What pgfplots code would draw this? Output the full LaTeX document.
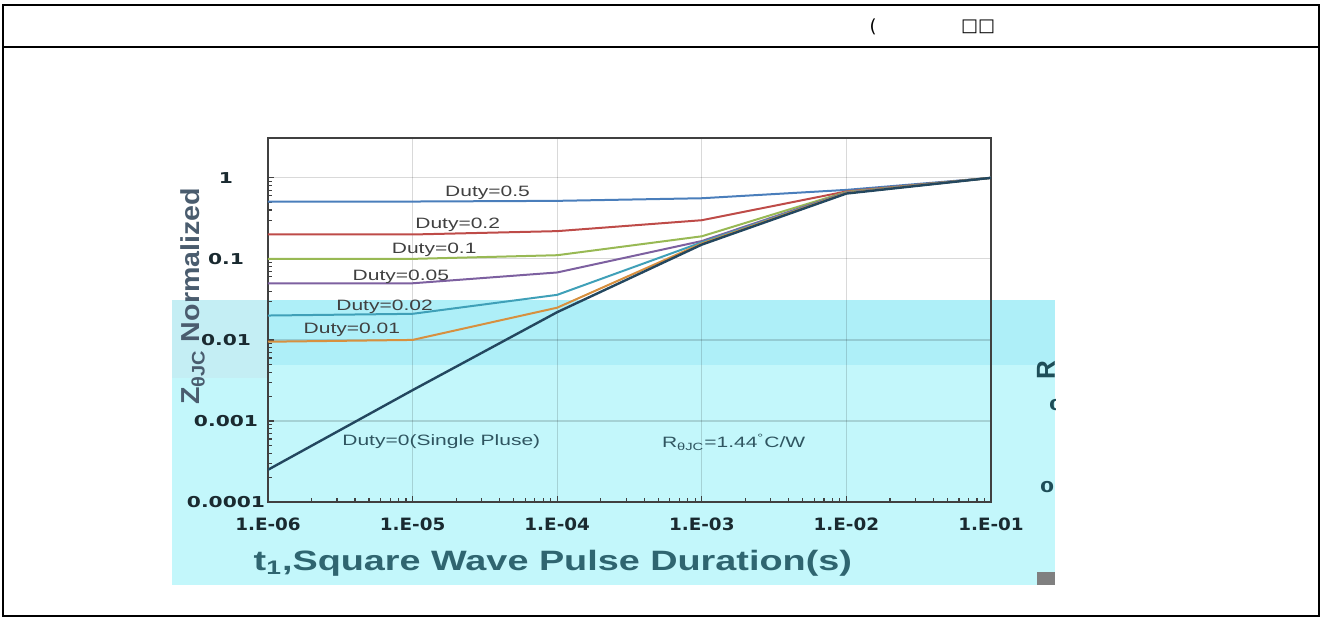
\documentclass[border=0pt]{standalone}
\usepackage{fontspec}
\setmainfont{Liberation Sans}
\newfontfamily\dutyfont[FakeStretch=1.4]{Liberation Sans}
\newfontfamily\xlabfont[FakeStretch=1.35]{Liberation Sans}
\newfontfamily\ylabfont[FakeStretch=1.1]{Liberation Sans}
\newfontfamily\ytickfont[FakeStretch=1.35]{DejaVu Sans}
\newfontfamily\xtickfont[FakeStretch=1.08]{DejaVu Sans}
\newfontfamily\symfont{DejaVu Sans}
\usepackage{pgfplots}
\pgfplotsset{compat=1.18}
\definecolor{cyanB}{HTML}{C3F7FB}
\definecolor{cyanM}{HTML}{AEEFF8}
\definecolor{cyanL}{HTML}{C4EEF4}
\definecolor{cA}{HTML}{4A7EBB}
\definecolor{cB}{HTML}{BE4B48}
\definecolor{cC}{HTML}{98B954}
\definecolor{cD}{HTML}{7D60A0}
\definecolor{cE}{HTML}{3FA0B8}
\definecolor{cF}{HTML}{D7903F}
\definecolor{cG}{HTML}{23475F}
\definecolor{xlabcol}{HTML}{2F6570}
\definecolor{ylabcol}{HTML}{4A5C6E}
\definecolor{botlab}{HTML}{2F5560}
\definecolor{tickcol}{HTML}{1A2A30}
\definecolor{fragcol}{HTML}{1E4E58}
\begin{document}
\begin{tikzpicture}
\useasboundingbox (0,0) rectangle (661pt,-309pt);
\begin{scope}[x=0.5pt,y=-0.5pt]
  \fill[cyanB] (172,365) rectangle (1055,585);
  \fill[cyanM] (172,300) rectangle (1055,365);
  \fill[cyanL] (172,300) rectangle (268,378);
  \fill[black!50] (1037,572) rectangle (1055,585);
  \draw[black, line width=0.6pt] (3,5) rectangle (1319,616);
  \draw[black, line width=0.6pt] (3,47) -- (1319,47);
  \node[font=\symfont\fontsize{9}{10}\selectfont] at (873,27) {(};
  \node[font=\symfont\fontsize{9}{10}\selectfont] at (978,27) {□□};
  \begin{scope}
    \clip (1000,300) rectangle (1055,585);
    \node[rotate=90, font=\bfseries\fontsize{13}{14}\selectfont, text=fragcol] at (1046,370) {R};
    \node[anchor=west, font=\ytickfont\bfseries\fontsize{7.5}{8}\selectfont, text=fragcol] at (1042,405) {0.1};
    \node[anchor=west, font=\ytickfont\bfseries\fontsize{7.5}{8}\selectfont, text=fragcol] at (1033,487) {0.01};
  \end{scope}
\end{scope}
\begin{axis}[
  at={(134pt,-251pt)}, anchor=south west,
  scale only axis, width=361.5pt, height=182pt,
  xmode=log, ymode=log,
  xmin=1e-6, xmax=1e-1, ymin=1e-4, ymax=3.1,
  axis line style={draw=black!75, line width=0.8pt},
  grid=major, major grid style={black, opacity=0.15, line width=0.6pt},
  xtick pos=left, ytick pos=left, tick align=inside,
  major tick length=3pt, minor tick length=2pt,
  tick style={black!75, line width=0.6pt},
  xtick={1e-6,1e-5,1e-4,1e-3,1e-2,1e-1},
  xticklabels={1.E-06,1.E-05,1.E-04,1.E-03,1.E-02,1.E-01},
  xticklabel style={font=\xtickfont\bfseries\fontsize{8.5}{9}\selectfont, text=tickcol, yshift=-4.5pt},
  ytick={1e-4,1e-3,1e-2,1e-1,1},
  yticklabels={0.0001,0.001,0.01,0.1,1},
  yticklabel style={font=\ytickfont\bfseries\fontsize{7.5}{8}\selectfont, text=tickcol, anchor=center, xshift=-21pt},
  xlabel={t\textsubscript{1},Square Wave Pulse Duration(s)},
  xlabel style={font=\xlabfont\bfseries\fontsize{14}{16}\selectfont, text=xlabcol, at={(axis description cs:0.394,0)}, anchor=center, yshift=-30.5pt},
  ylabel={Z\textsubscript{θJC} Normalized},
  ylabel style={font=\ylabfont\bfseries\fontsize{13}{14}\selectfont, text=ylabcol, at={(axis description cs:-0.104,0.565)}, anchor=center},
]
\addplot[cA, line width=1pt] coordinates {(1e-6,0.51)(1e-5,0.51)(1e-4,0.52)(1e-3,0.56)(1e-2,0.71)(1e-1,1)};
\addplot[cB, line width=1pt] coordinates {(1e-6,0.2)(1e-5,0.2)(1e-4,0.22)(1e-3,0.30)(1e-2,0.68)(1e-1,1)};
\addplot[cC, line width=1pt] coordinates {(1e-6,0.1)(1e-5,0.1)(1e-4,0.111)(1e-3,0.19)(1e-2,0.67)(1e-1,1)};
\addplot[cD, line width=1pt] coordinates {(1e-6,0.05)(1e-5,0.05)(1e-4,0.068)(1e-3,0.166)(1e-2,0.66)(1e-1,1)};
\addplot[cE, line width=1pt] coordinates {(1e-6,0.02)(1e-5,0.021)(1e-4,0.036)(1e-3,0.16)(1e-2,0.65)(1e-1,1)};
\addplot[cF, line width=1pt] coordinates {(1e-6,0.0095)(1e-5,0.01)(1e-4,0.025)(1e-3,0.155)(1e-2,0.65)(1e-1,1)};
\addplot[cG, line width=1.2pt] coordinates {(1e-6,0.00025)(1e-5,0.0024)(1e-4,0.022)(1e-3,0.15)(1e-2,0.64)(1e-1,1)};
\node[font=\dutyfont\fontsize{7.5}{8}\selectfont, text=black!75] at (axis cs:3.3e-5,0.65) {Duty=0.5};
\node[font=\dutyfont\fontsize{7.5}{8}\selectfont, text=black!75] at (axis cs:2.05e-5,0.263) {Duty=0.2};
\node[font=\dutyfont\fontsize{7.5}{8}\selectfont, text=black!75] at (axis cs:1.41e-5,0.129) {Duty=0.1};
\node[font=\dutyfont\fontsize{7.5}{8}\selectfont, text=black!75] at (axis cs:8.3e-6,0.060) {Duty=0.05};
\node[font=\dutyfont\fontsize{7.5}{8}\selectfont, text=black!75] at (axis cs:6.4e-6,0.0257) {Duty=0.02};
\node[font=\dutyfont\fontsize{7.5}{8}\selectfont, text=black!75] at (axis cs:3.8e-6,0.0133) {Duty=0.01};
\node[font=\dutyfont\fontsize{7.5}{8}\selectfont, text=botlab] at (axis cs:1.58e-5,5.5e-4) {Duty=0(Single Pluse)};
\node[font=\dutyfont\fontsize{7.5}{8}\selectfont, text=botlab] at (axis cs:1.66e-3,5.5e-4) {R\textsubscript{θJC}=1.44\textsuperscript{°}C/W};
\end{axis}
\end{tikzpicture}
\end{document}
